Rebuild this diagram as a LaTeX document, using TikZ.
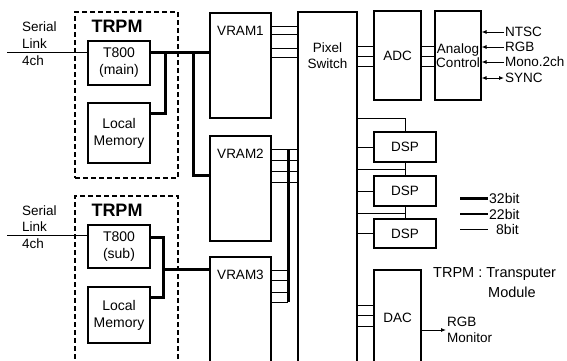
\documentclass[tikz,border=0pt]{standalone}
\usepackage{fontspec}
\setmainfont{Liberation Sans}
\usetikzlibrary{positioning, arrows.meta}

\begin{document}
\begin{tikzpicture}[x=1pt, y=-1pt, >={Latex[length=5pt,width=4pt]},
        font=\fontsize{13.5}{16}\selectfont,
        box/.style={draw, line width=1.1pt, inner sep=0pt, align=center},
        pe/.style={box, minimum width=62pt, font=\fontsize{14}{17}\selectfont},
        vram/.style={box, minimum width=61pt},
        module/.style={draw, line width=1.2pt, dash pattern=on 5pt off 3pt},
        bus32/.style={line width=3pt},
        bus22/.style={line width=1.8pt},
        bus8/.style={line width=0.9pt},
        tag/.style={inner sep=1pt, align=left}]
        \clip (0,0) rectangle (567,360);

        % Nodes
        \node (trpmA) [module, minimum width=103pt, minimum height=166pt, label={[anchor=center, xshift=-9.5pt, yshift=-15pt, font=\bfseries\fontsize{18}{18}\selectfont]north:TRPM}] at (126.5,95) {};
        \node (trpmB) [module, minimum width=103pt, minimum height=204pt, label={[anchor=center, xshift=-9.5pt, yshift=-15pt, font=\bfseries\fontsize{18}{18}\selectfont]north:TRPM}] at (126.5,298) {};
        \node (t800a) [pe, minimum height=44pt] at (119,63) {T800\\(main)};
        \node (memA) [pe, minimum height=60pt] at (119,133) {Local\\Memory};
        \node (t800b) [pe, minimum height=43pt] at (119,246.5) {T800\\(sub)};
        \node (memB) [pe, minimum height=56pt] at (119,315) {Local\\Memory};
        \node (serA) [tag, anchor=west, font=\fontsize{13.5}{17}\selectfont] at (21,44) {Serial\\Link\\4ch};
        \node (serB) [tag, anchor=west, font=\fontsize{13.5}{16.5}\selectfont] at (21,227) {Serial\\Link\\4ch};

        \node (vram1) [vram, minimum height=105pt, label={[anchor=center, yshift=-18.5pt]north:VRAM1}] at (240.5,65.5) {};
        \node (vram2) [vram, minimum height=105pt, label={[anchor=center, yshift=-18.5pt]north:VRAM2}] at (240.5,188.5) {};
        \node (vram3) [vram, minimum height=143pt, label={[anchor=center, yshift=-18.5pt]north:VRAM3}] at (240.5,328.5) {};
        \node (ps) [box, minimum width=59pt, minimum height=388pt, label={[anchor=center, yshift=-44pt, align=center]north:{Pixel\\Switch}}] at (327.5,206) {};

        \node (adc) [box, minimum width=47pt, minimum height=89pt] at (397.5,55.5) {ADC};
        \node (ana) [box, minimum width=46pt, minimum height=89pt, font=\fontsize{13.5}{14}\selectfont] at (458,55.5) {Analog\\Control};
        \node (ntsc) [tag, anchor=west] at (504,32) {NTSC};
        \node (rgbin) [tag, anchor=west] at (504,47) {RGB};
        \node (mono) [tag, anchor=west] at (504,62) {Mono.2ch};
        \node (sync) [tag, anchor=west] at (504,78) {SYNC};

        \node (dsp1) [box, minimum width=62pt, minimum height=30pt] at (405,147) {DSP};
        \node (dsp2) [box, minimum width=62pt, minimum height=30pt] at (405,191) {DSP};
        \node (dsp3) [box, minimum width=62pt, minimum height=29pt] at (405,233.5) {DSP};
        \node (dac) [box, minimum width=47pt, minimum height=130pt, label={[anchor=center, yshift=-48pt]north:DAC}] at (397.5,335) {};
        \node (mon) [tag, anchor=west] at (446,330) {RGB\\Monitor};

        \node (k32txt) [tag, anchor=west, font=\fontsize{14}{16}\selectfont] at (488,198) {32bit};
        \node (k22txt) [tag, anchor=west, font=\fontsize{14}{16}\selectfont] at (488,214) {22bit};
        \node (k8txt) [tag, anchor=west, font=\fontsize{14}{16}\selectfont] at (495,229) {8bit};
        \node (note) [tag, anchor=west, font=\fontsize{14.5}{20}\selectfont] at (432,283) {TRPM : Transputer\\\hspace*{55pt}Module};

        \coordinate (inA) at (7,52);
        \coordinate (inB) at (7,235);
        \coordinate (jA) at (165,52);
        \coordinate (kA) at (193,52);
        \coordinate (jB) at (163,237);
        \coordinate (tapT) at (288,149);
        \coordinate (tapB) at (288,302);
        \coordinate (k32) at (460,198);
        \coordinate (k22) at (460,214);
        \coordinate (k8) at (460,229);

        % Links
        \draw[bus8] (inA) -- (t800a.west |- inA);
        \draw[bus8] (inB) -- (t800b.west |- inB);
        \draw[bus32] (t800a.east |- jA) -- (vram1.west |- jA);
        \draw[bus32] (jA) |- ([yshift=20pt]memA.east);
        \draw[bus32] (kA) |- ([yshift=13.5pt]vram2.west);
        \draw[bus32] (t800b.east |- jB) -- (jB) |- ([yshift=18pt]memB.east);
        \draw[bus32] (jB |- 0,269) -- (vram3.west |- 0,269);

        \foreach \y in {26,34,48,57}
            \draw[bus8] (vram1.east |- 0,\y) -- (ps.west |- 0,\y);
        \foreach \y in {149,160,171,182}
            \draw[bus8] (vram2.east |- 0,\y) -- (ps.west |- 0,\y);
        \foreach \y in {270,280,292,302}
            \draw[bus8] (vram3.east |- 0,\y) -- (tapT |- 0,\y);
        \draw[bus32] (tapT) -- (tapB);

        \foreach \y in {46,56,66} {
            \draw[bus8] (ps.east |- 0,\y) -- (adc.west |- 0,\y);
            \draw[bus8] (adc.east |- 0,\y) -- (ana.west |- 0,\y);
        }
        \foreach \y in {305,315,326}
            \draw[bus8] (ps.east |- 0,\y) -- (dac.west |- 0,\y);

        \draw[bus8] (ps.east |- 0,118) -| (dsp1.north);
        \draw[bus8] (ps.east |- dsp1.west) -- (dsp1.west);
        \draw[bus8] (ps.east |- 0,169) -- (dsp1.south |- 0,169);
        \draw[bus8] (dsp1.south) -- (dsp2.north);
        \draw[bus8] (ps.east |- dsp2.west) -- (dsp2.west);
        \draw[bus8] (ps.east |- 0,213) -- (dsp2.south |- 0,213);
        \draw[bus8] (dsp2.south) -- (dsp3.north);
        \draw[bus8] (ps.east |- dsp3.west) -- (dsp3.west);

        % Arrows
        \draw[bus8, ->] (ntsc.west) -- (ana.east |- ntsc.west);
        \draw[bus8, ->] (rgbin.west) -- (ana.east |- rgbin.west);
        \draw[bus8, ->] (mono.west) -- (ana.east |- mono.west);
        \draw[bus8, <->] (sync.west) -- (ana.east |- sync.west);
        \draw[bus8, ->] (dac.east |- mon.west) -- (mon.west);

        % Legend
        \draw[bus32] (k32) -- (k32txt.west);
        \draw[bus22] (k22) -- (k22txt.west);
        \draw[bus8] (k8) -- (k8 -| k32txt.west);

    \end{tikzpicture}
\end{document}
